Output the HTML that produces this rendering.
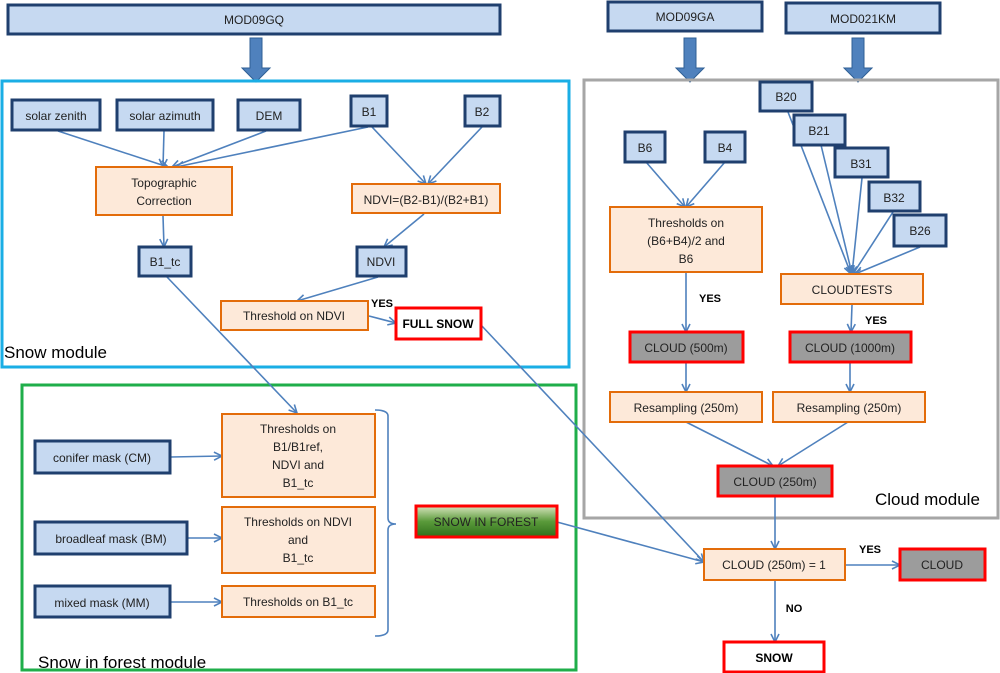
<!DOCTYPE html>
<html><head><meta charset="utf-8"><style>
body{margin:0;background:#fff}
svg{display:block}
text{font-family:"Liberation Sans",sans-serif;font-size:12px;fill:#222;text-anchor:middle}
.b{fill:#c6d9f1;stroke:#1f3f6e;stroke-width:3}
.o{fill:#fde9d9;stroke:#e36c0a;stroke-width:2}
.r{fill:#fff;stroke:#f00;stroke-width:3}
.g{fill:#9c9c9c;stroke:#f00;stroke-width:3}
.l{stroke:#4f81bd;stroke-width:1.6;fill:none;marker-end:url(#a)}
.bold{font-weight:bold;fill:#000}
</style></head><body>
<svg width="1000" height="673" viewBox="0 0 1000 673" xmlns="http://www.w3.org/2000/svg">
<defs>
<marker id="a" markerWidth="10" markerHeight="10" refX="9" refY="5" orient="auto" markerUnits="userSpaceOnUse"><path d="M1,1 L9,5 L1,9" fill="none" stroke="#4f81bd" stroke-width="1.6"/></marker>
<linearGradient id="gr" x1="0" y1="0" x2="0" y2="1"><stop offset="0" stop-color="#d7e4bd"/><stop offset="0.5" stop-color="#5a9a3a"/><stop offset="1" stop-color="#2f6f1a"/></linearGradient>
</defs>
<!-- top sources -->
<rect x="8" y="5" width="492" height="29" class="b" stroke-width="2"/><text x="254" y="24">MOD09GQ</text>
<rect x="608" y="2" width="154" height="29" class="b" stroke-width="2"/><text x="685" y="21">MOD09GA</text>
<rect x="786" y="3" width="154" height="30" class="b" stroke-width="2"/><text x="863" y="23">MOD021KM</text>
<!-- big arrows -->
<g fill="#4f81bd" stroke="#2f5f95" stroke-width="1">
<path d="M250,38 H262 V68 H270 L256,82 L242,68 H250 Z"/>
<path d="M684,38 H696 V68 H704 L690,82 L676,68 H684 Z"/>
<path d="M852,38 H864 V68 H872 L858,82 L844,68 H852 Z"/>
</g>
<!-- modules -->
<rect x="2" y="81" width="567" height="286" fill="none" stroke="#1aaee5" stroke-width="3"/>
<rect x="584" y="80" width="414" height="438" fill="none" stroke="#a6a6a6" stroke-width="3"/>
<rect x="22" y="385" width="554" height="285" fill="none" stroke="#1fae4a" stroke-width="3"/>
<text x="4" y="358" class="bold" style="font-size:17px;text-anchor:start;font-weight:normal">Snow module</text>
<text x="875" y="505" style="font-size:17px;text-anchor:start;fill:#000">Cloud module</text>
<text x="38" y="668" style="font-size:17px;text-anchor:start;fill:#000">Snow in forest module</text>
<!-- lines snow -->
<path class="l" d="M58,131 L168,167"/><path class="l" d="M164,131 L163,167"/><path class="l" d="M266,131 L172,167"/>
<path class="l" d="M368,127 L176,167"/><path class="l" d="M372,127 L426,184"/><path class="l" d="M482,127 L428,184"/>
<path class="l" d="M163,216 L164,247"/><path class="l" d="M424,214 L384,247"/><path class="l" d="M378,277 L297,301"/>
<path class="l" d="M369,316 L396,323"/>
<path class="l" d="M167,277 L297,413"/>
<path class="l" d="M481,325 L704,562"/>
<!-- cloud lines -->
<path class="l" d="M646,162 L685,207"/><path class="l" d="M725,162 L686,207"/>
<path class="l" d="M686,273 L686,332"/>
<path class="l" d="M788,112 L851,274"/><path class="l" d="M821,145 L852,274"/><path class="l" d="M862,178 L852,274"/><path class="l" d="M893,212 L853,274"/><path class="l" d="M920,247 L855,274"/>
<path class="l" d="M852,305 L851,332"/>
<path class="l" d="M686,362 L686,392"/><path class="l" d="M850,362 L850,392"/>
<path class="l" d="M686,422 L773,466"/><path class="l" d="M848,422 L778,466"/>
<path class="l" d="M775,497 L775,549"/>
<path class="l" d="M845,565 L900,565"/><path class="l" d="M775,581 L775,642"/>
<path class="l" d="M557,522 L704,562"/>
<!-- forest lines -->
<path class="l" d="M171,457 L222,456"/><path class="l" d="M188,538 L222,538"/><path class="l" d="M171,602 L222,602"/>
<path d="M375,410 Q388,410 388,416 V518 Q388,524 396,524 Q388,524 388,530 V630 Q388,636 375,636" fill="none" stroke="#4f81bd" stroke-width="1.6"/>
<!-- snow nodes -->
<rect x="12" y="100" width="88" height="30" class="b"/><text x="56" y="120">solar zenith</text>
<rect x="117" y="100" width="96" height="30" class="b"/><text x="165" y="120">solar azimuth</text>
<rect x="238" y="100" width="62" height="30" class="b"/><text x="269" y="120">DEM</text>
<rect x="351" y="96" width="36" height="30" class="b"/><text x="369" y="116">B1</text>
<rect x="465" y="96" width="35" height="30" class="b"/><text x="482" y="116">B2</text>
<rect x="96" y="167" width="136" height="48" class="o"/><text x="164" y="187">Topographic</text><text x="164" y="205">Correction</text>
<rect x="352" y="184" width="148" height="29" class="o"/><text x="426" y="204">NDVI=(B2-B1)/(B2+B1)</text>
<rect x="139" y="247" width="52" height="29" class="b"/><text x="165" y="266">B1_tc</text>
<rect x="357" y="247" width="49" height="29" class="b"/><text x="381" y="266">NDVI</text>
<rect x="221" y="301" width="147" height="29" class="o"/><text x="294" y="320">Threshold on NDVI</text>
<text x="382" y="307" class="bold" style="font-size:11px">YES</text>
<rect x="396" y="308" width="85" height="31" class="r"/><text x="438" y="328" class="bold">FULL SNOW</text>
<!-- cloud nodes -->
<rect x="625" y="132" width="40" height="30" class="b"/><text x="645" y="152">B6</text>
<rect x="705" y="132" width="40" height="30" class="b"/><text x="725" y="152">B4</text>
<rect x="610" y="207" width="152" height="65" class="o"/><text x="686" y="227">Thresholds on</text><text x="686" y="245">(B6+B4)/2  and</text><text x="686" y="263">B6</text>
<rect x="760" y="82" width="52" height="29" class="b"/><text x="786" y="101">B20</text>
<rect x="794" y="115" width="51" height="30" class="b"/><text x="819" y="135">B21</text>
<rect x="835" y="148" width="53" height="29" class="b"/><text x="861" y="168">B31</text>
<rect x="869" y="182" width="51" height="29" class="b"/><text x="894" y="202">B32</text>
<rect x="894" y="215" width="52" height="31" class="b"/><text x="920" y="235">B26</text>
<rect x="781" y="274" width="142" height="30" class="o"/><text x="852" y="294">CLOUDTESTS</text>
<text x="710" y="302" class="bold" style="font-size:11px">YES</text>
<text x="876" y="324" class="bold" style="font-size:11px">YES</text>
<rect x="630" y="332" width="113" height="30" class="g"/><text x="686" y="352">CLOUD (500m)</text>
<rect x="790" y="332" width="121" height="30" class="g"/><text x="850" y="352">CLOUD (1000m)</text>
<rect x="610" y="392" width="152" height="30" class="o"/><text x="686" y="412">Resampling (250m)</text>
<rect x="773" y="392" width="152" height="30" class="o"/><text x="849" y="412">Resampling (250m)</text>
<rect x="718" y="466" width="114" height="30" class="g"/><text x="775" y="486">CLOUD (250m)</text>
<!-- forest nodes -->
<rect x="35" y="441" width="135" height="32" class="b"/><text x="102" y="462">conifer mask (CM)</text>
<rect x="35" y="522" width="152" height="32" class="b"/><text x="111" y="543">broadleaf mask (BM)</text>
<rect x="35" y="586" width="135" height="31" class="b"/><text x="102" y="607">mixed mask (MM)</text>
<rect x="222" y="414" width="153" height="83" class="o"/><text x="298" y="433">Thresholds on</text><text x="298" y="451">B1/B1ref,</text><text x="298" y="469">NDVI and</text><text x="298" y="487">B1_tc</text>
<rect x="222" y="507" width="153" height="66" class="o"/><text x="298" y="526">Thresholds on NDVI</text><text x="298" y="544">and</text><text x="298" y="562">B1_tc</text>
<rect x="222" y="586" width="153" height="31" class="o"/><text x="298" y="606">Thresholds on B1_tc</text>
<rect x="416" y="506" width="141" height="31" fill="url(#gr)" stroke="#f00" stroke-width="3"/><text x="486" y="526">SNOW IN FOREST</text>
<!-- decision -->
<rect x="704" y="549" width="141" height="31" class="o"/><text x="774" y="569">CLOUD (250m) = 1</text>
<text x="870" y="553" class="bold" style="font-size:11px">YES</text>
<rect x="900" y="549" width="85" height="31" class="g"/><text x="942" y="569">CLOUD</text>
<text x="794" y="612" class="bold" style="font-size:11px">NO</text>
<rect x="724" y="642" width="100" height="30" class="r"/><text x="774" y="662" class="bold">SNOW</text>
</svg>
</body></html>
